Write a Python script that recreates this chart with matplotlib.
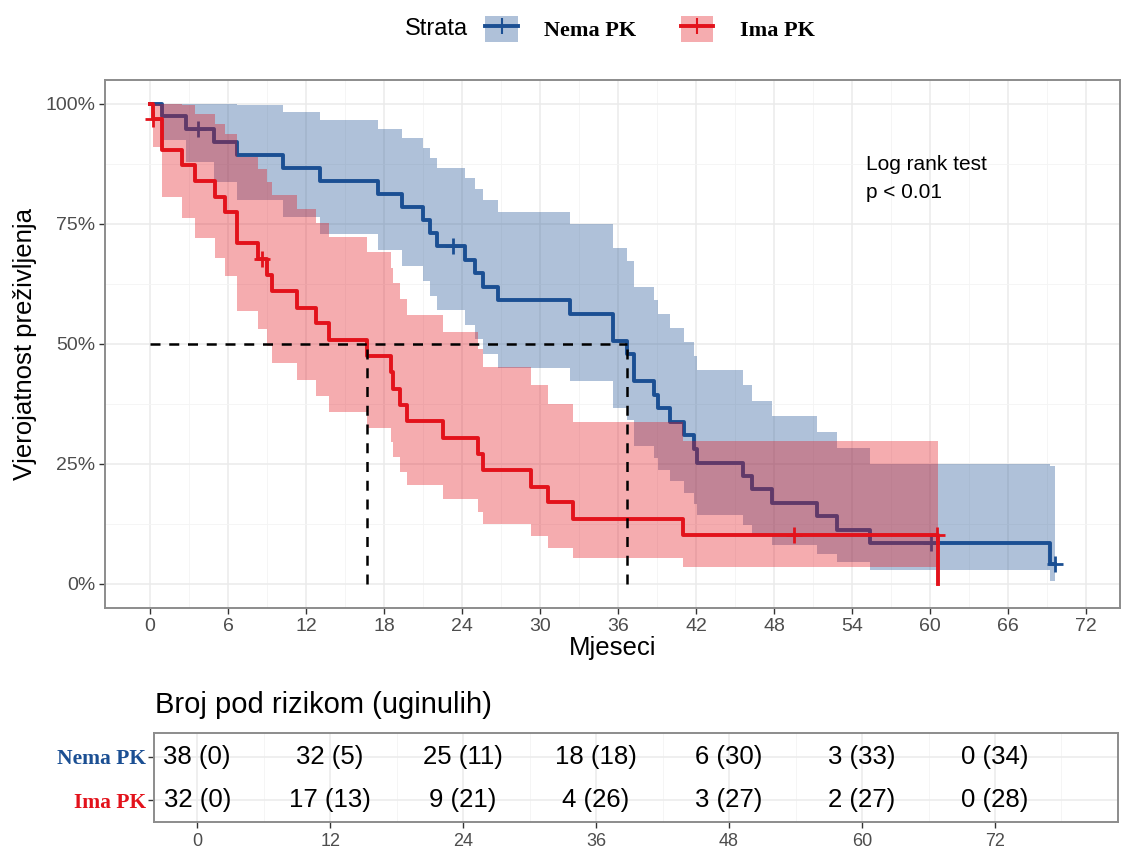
import numpy as np
import matplotlib.pyplot as plt
from matplotlib.patches import Patch
from matplotlib.lines import Line2D
from matplotlib.legend_handler import HandlerTuple

plt.rcParams['font.family'] = ['Liberation Sans', 'DejaVu Sans']

# ---------------------------------------------------------------------------
# data (months, survival, 95% band)
# ---------------------------------------------------------------------------
nema_t = [0, 0.9, 2.8, 4.9, 6.7, 10.2, 13.1, 17.5, 19.4, 21.0, 21.5, 22.1,
          24.2, 25.0, 25.6, 26.8, 32.3, 35.6, 36.7, 37.2, 38.8, 39.1, 40.0,
          41.1, 41.8, 42.1, 45.6, 46.3, 47.8, 51.3, 52.8, 55.4, 69.2]
nema_s = [1.0, 0.974, 0.947, 0.920, 0.893, 0.866, 0.839, 0.812, 0.785, 0.758,
          0.731, 0.704, 0.676, 0.647, 0.619, 0.591, 0.563, 0.507, 0.479, 0.422,
          0.394, 0.366, 0.338, 0.310, 0.282, 0.253, 0.225, 0.197, 0.169, 0.141,
          0.113, 0.085, 0.042]
nema_lo = [1.0, 0.924, 0.879, 0.838, 0.800, 0.764, 0.729, 0.696, 0.663, 0.632,
           0.601, 0.571, 0.540, 0.510, 0.480, 0.451, 0.423, 0.367, 0.341, 0.288,
           0.263, 0.238, 0.214, 0.190, 0.167, 0.144, 0.123, 0.102, 0.082, 0.063,
           0.045, 0.029, 0.007]
nema_hi = [1.0, 1.0, 1.0, 1.0, 0.998, 0.983, 0.966, 0.948, 0.929, 0.909,
           0.888, 0.867, 0.845, 0.822, 0.799, 0.774, 0.750, 0.699, 0.673, 0.619,
           0.591, 0.563, 0.534, 0.505, 0.475, 0.445, 0.414, 0.382, 0.350, 0.317,
           0.283, 0.249, 0.245]
nema_end = 69.6
nema_cens = [3.7, 23.3, 60.1, 69.6]

ima_t = [0, 0.2, 0.9, 2.5, 3.5, 5.0, 5.8, 6.7, 8.3, 9.0, 9.4, 11.3, 12.8,
         13.8, 16.7, 18.5, 18.7, 19.2, 19.8, 22.5, 25.2, 25.6, 29.3, 30.6,
         32.5, 41.0, 60.6]
ima_s = [1.0, 0.969, 0.904, 0.872, 0.840, 0.807, 0.775, 0.710, 0.678, 0.644,
         0.610, 0.576, 0.543, 0.509, 0.475, 0.441, 0.407, 0.373, 0.339, 0.305,
         0.271, 0.237, 0.203, 0.170, 0.136, 0.102, 0.0]
ima_lo = [1.0, 0.910, 0.807, 0.762, 0.720, 0.680, 0.641, 0.568, 0.532, 0.496,
          0.460, 0.425, 0.391, 0.358, 0.326, 0.295, 0.264, 0.234, 0.206, 0.178,
          0.151, 0.125, 0.100, 0.076, 0.055, 0.035, np.nan]
ima_hi = [1.0, 1.0, 1.0, 0.997, 0.979, 0.959, 0.937, 0.889, 0.864, 0.838,
          0.810, 0.782, 0.752, 0.722, 0.691, 0.659, 0.627, 0.594, 0.560, 0.525,
          0.489, 0.452, 0.415, 0.376, 0.337, 0.297, np.nan]
ima_end = 60.6
ima_cens = [0.25, 8.6, 49.5, 60.5]

risk_times = [0, 12, 24, 36, 48, 60, 72]
nema_risk = [38, 32, 25, 18, 6, 3, 0]
nema_dead = [0, 5, 11, 18, 30, 33, 34]
ima_risk = [32, 17, 9, 4, 3, 2, 0]
ima_dead = [0, 13, 21, 26, 27, 27, 28]

blue = "#1B4F93"
red = "#E3121B"
W, H = 1124, 851


def step_at(t, s, x):
    i = np.searchsorted(t, x, side="right") - 1
    return np.asarray(s)[i]


def draw_group(ax, t, s, lo, hi, end, cens, color, z):
    t = np.asarray(t, float)
    s = np.asarray(s, float)
    lo = np.asarray(lo, float)
    hi = np.asarray(hi, float)
    ok = s > 0
    tb = np.append(t[ok], end)
    ax.fill_between(tb, np.append(lo[ok], lo[ok][-1]), np.append(hi[ok], hi[ok][-1]),
                    step="post", color=color, alpha=0.35, lw=0, zorder=z)
    ax.step(np.append(t, end), np.append(s, s[-1]), where="post",
            color=color, lw=2.8, zorder=z + 0.5)
    cy = step_at(t, s, np.asarray(cens))
    ax.plot(cens, cy, ls="none", marker="+", ms=11, mew=2, color=color, zorder=z + 0.5)


fig = plt.figure(figsize=(W / 100, H / 100), dpi=100)
ax = fig.add_axes([105 / W, 1 - 608 / H, (1120 - 105) / W, (608 - 80) / H])
ax_t = fig.add_axes([154 / W, 1 - 822 / H, (1118 - 154) / W, (822 - 733) / H])

# ---------------------------------------------------------------------------
# survival curves
# ---------------------------------------------------------------------------
draw_group(ax, nema_t, nema_s, nema_lo, nema_hi, nema_end, nema_cens, blue, 1.5)
draw_group(ax, ima_t, ima_s, ima_lo, ima_hi, ima_end, ima_cens, red, 2.5)

# median survival lines
med_nema = nema_t[np.argmax(np.asarray(nema_s) <= 0.5)]
med_ima = ima_t[np.argmax(np.asarray(ima_s) <= 0.5)]
dash = dict(color="black", lw=1.8, ls=(0, (4, 3.5)), zorder=5)
ax.plot([0, max(med_nema, med_ima)], [0.5, 0.5], **dash)
ax.plot([med_ima, med_ima], [0, 0.5], **dash)
ax.plot([med_nema, med_nema], [0, 0.5], **dash)

ax.text(55.1, 0.845, "Log rank test\np < 0.01", fontsize=15, va="center",
        ha="left", linespacing=1.65)

ax.set_xlim(-3.46, 74.6)
ax.set_ylim(-0.05, 1.05)
ax.set_xticks(range(0, 73, 6))
ax.set_xticks(range(3, 73, 6), minor=True)
ax.set_yticks([0, 0.25, 0.5, 0.75, 1.0])
ax.set_yticklabels(["0%", "25%", "50%", "75%", "100%"])
ax.set_yticks([0.125, 0.375, 0.625, 0.875], minor=True)
ax.grid(which="major", color="#EBEBEB", lw=1.1)
ax.grid(which="minor", color="#F4F4F4", lw=0.6)
ax.set_axisbelow(True)
ax.tick_params(which="major", length=4, width=1, color="#333333",
               labelcolor="#4D4D4D", labelsize=14, pad=3)
ax.tick_params(which="minor", length=0)
for sp in ax.spines.values():
    sp.set_color("#8C8C8C")
    sp.set_linewidth(1.4)
ax.set_xlabel("Mjeseci", fontsize=18.5, labelpad=1)
ax.set_ylabel("Vjerojatnost preživljenja", fontsize=18.5, labelpad=6)

# ---------------------------------------------------------------------------
# legend
# ---------------------------------------------------------------------------
fig.text(405 / W, 1 - 29 / H, "Strata", fontsize=17, va="center", ha="left")
handles = [(Patch(facecolor=blue, alpha=0.35, edgecolor="none"),
            Line2D([], [], color=blue, lw=2.8, marker="+", ms=12, mew=1.5)),
           (Patch(facecolor=red, alpha=0.35, edgecolor="none"),
            Line2D([], [], color=red, lw=2.8, marker="+", ms=12, mew=1.5))]
fig.legend(handles, ["Nema PK", "Ima PK"], loc="center",
           bbox_to_anchor=(650 / W, 1 - 29 / H), ncol=2, frameon=False,
           prop={"family": "Liberation Serif", "weight": "bold", "size": 16},
           handlelength=1.45, handleheight=1.45, handletextpad=1.2,
           columnspacing=2.0,
           handler_map={tuple: HandlerTuple(ndivide=1, pad=0)})

# ---------------------------------------------------------------------------
# risk table
# ---------------------------------------------------------------------------
fig.text(155 / W, 1 - 705 / H, "Broj pod rizikom (uginulih)", fontsize=21,
         va="center", ha="left")
for x, n, d in zip(risk_times, nema_risk, nema_dead):
    ax_t.text(x, 1, f"{n} ({d})", ha="center", va="center", fontsize=18.5)
for x, n, d in zip(risk_times, ima_risk, ima_dead):
    ax_t.text(x, 0, f"{n} ({d})", ha="center", va="center", fontsize=18.5)

ax_t.set_xlim(-3.9, 83.1)
ax_t.set_ylim(-0.5, 1.55)
ax_t.set_xticks(risk_times)
ax_t.set_xticks(range(6, 84, 12), minor=True)
ax_t.set_yticks([1, 0])
ax_t.set_yticklabels(["Nema PK", "Ima PK"], family="Liberation Serif",
                     weight="bold", fontsize=15.5)
for lbl, c in zip(ax_t.get_yticklabels(), [blue, red]):
    lbl.set_color(c)
ax_t.grid(which="major", color="#EBEBEB", lw=1.1)
ax_t.grid(which="minor", axis="x", color="#F4F4F4", lw=0.6)
ax_t.set_axisbelow(True)
ax_t.tick_params(which="major", length=4, width=1, color="#333333", pad=2)
ax_t.tick_params(axis="x", labelcolor="#4D4D4D", labelsize=13, pad=4)
ax_t.tick_params(which="minor", length=0)
for sp in ax_t.spines.values():
    sp.set_color("#8C8C8C")
    sp.set_linewidth(1.4)

fig.savefig("out.png", dpi=100)
